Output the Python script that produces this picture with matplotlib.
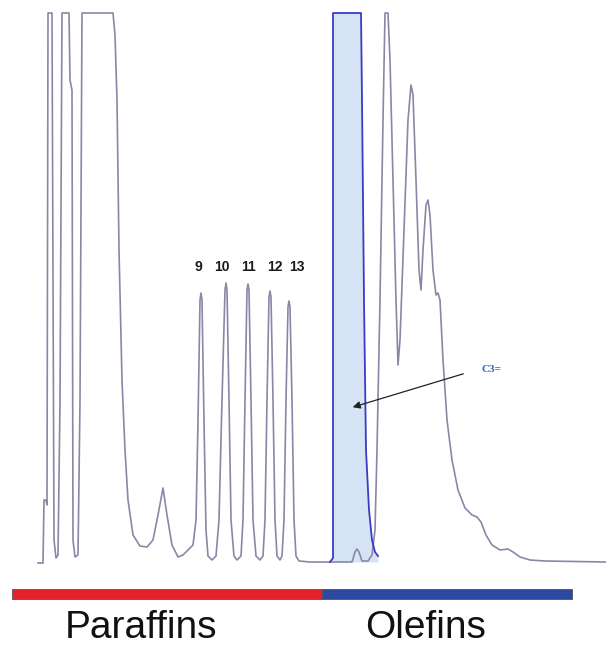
import matplotlib
matplotlib.use("Agg")
import matplotlib.pyplot as plt

# chromatogram trace: retention position, detector response
# (peaks that run off scale are flat at the saturation value 549)
trace_t = [38, 43, 44, 46, 47, 48, 52, 54, 56, 58, 60, 62, 69, 70, 72, 73, 75, 78, 80, 82,
           113, 115, 117, 119, 122, 125, 128, 133, 140, 147, 153, 158, 163, 167, 172, 178, 183, 189, 193,
           196, 198, 200, 201, 202, 204, 206, 208, 212,
           216, 219, 222, 225, 226, 227, 229, 231, 234, 237,
           241, 243, 245, 247, 248, 249, 251, 253, 256, 260,
           263, 265, 267, 269, 270, 271, 273, 275, 277, 280,
           282, 284, 286, 288, 289, 290, 292, 294, 296, 299,
           310, 333, 352, 355, 357, 359, 362, 368, 372, 375, 377, 380, 383, 385, 388,
           390, 393, 396, 398, 400, 404, 408, 411, 413, 416, 419, 421, 423, 426, 428, 430,
           433, 436, 438, 440, 443, 447, 452, 458, 465, 472, 477, 481, 486, 492, 500, 508,
           513, 520, 530, 545, 606]
trace_r = [-1, -1, 62, 62, 57, 549, 549, 22, 4, 7, 160, 549, 549, 482, 472, 22, 5, 7, 160, 549,
           549, 527, 462, 312, 182, 112, 62, 27, 16, 15, 22, 47, 74, 47, 17, 5, 7, 13, 17,
           42, 140, 262, 269, 262, 140, 32, 6, 2,
           6, 42, 162, 272, 279, 272, 162, 42, 6, 2,
           6, 42, 162, 272, 278, 272, 162, 42, 6, 2,
           6, 42, 162, 265, 271, 265, 162, 42, 6, 2,
           6, 42, 162, 255, 261, 255, 162, 42, 6, 1,
           0, 0, 0, 10, 13, 10, 1, 1, 7, 32, 112, 262, 442, 549, 549,
           502, 382, 262, 197, 222, 332, 442, 477, 467, 382, 292, 272, 312, 357, 362, 347,
           292, 267, 269, 262, 202, 142, 102, 72, 54, 47, 45, 40, 27, 17, 12, 13,
           10, 5, 2, 1, 0]

# C3= peak, drawn in blue and shaded
c3_t = [330, 333, 333, 361, 362, 364, 366, 369, 372, 375, 378]
c3_r = [0, 4, 549, 549, 462, 262, 112, 52, 22, 10, 6]

# carbon numbers of the labelled paraffin peaks and where they sit
peak_labels = ["9", "10", "11", "12", "13"]
peak_label_t = [198, 222, 248, 275, 297]

# compound classes along the bottom
groups = ["Paraffins", "Olefins"]
group_start = [12, 322]
group_end = [322, 572]
group_label_t = [141, 426]
group_colors = ["#e52229", "#2d48a0"]

fig = plt.figure(figsize=(6.06, 6.5), dpi=100)
ax = fig.add_axes([0, 0, 1, 1])
ax.set_xlim(0, 606)
ax.set_ylim(-88, 562)
ax.axis("off")

ax.fill_between(c3_t, 0, c3_r, color="#d6e3f4", lw=0)
ax.plot(trace_t, trace_r, color="#8a87a6", lw=1.2)
ax.plot(c3_t, c3_r, color="#3b3bc4", lw=1.3)

for lab, t in zip(peak_labels, peak_label_t):
    ax.text(t, 295, lab, ha="center", va="center", fontsize=10, fontweight="bold",
            color="#1a1a1a", family="Liberation Sans")

ax.annotate("", xy=(350, 154), xytext=(466, 189),
            arrowprops=dict(arrowstyle="-|>", color="#222222", lw=0.9, mutation_scale=11))
ax.text(482, 192, "C3=", color="#2a64c8", fontsize=8, fontweight="bold",
        family="Liberation Serif", va="center", ha="left")

for name, s, e, lt, c in zip(groups, group_start, group_end, group_label_t, group_colors):
    ax.broken_barh([(s, e - s)], (-37, 10), facecolors=c, edgecolors="#555555", lw=0.6)
    ax.text(lt, -66, name, ha="center", va="center", fontsize=28,
            family="Liberation Sans", color="#111111")

fig.savefig("out.png", dpi=100)
